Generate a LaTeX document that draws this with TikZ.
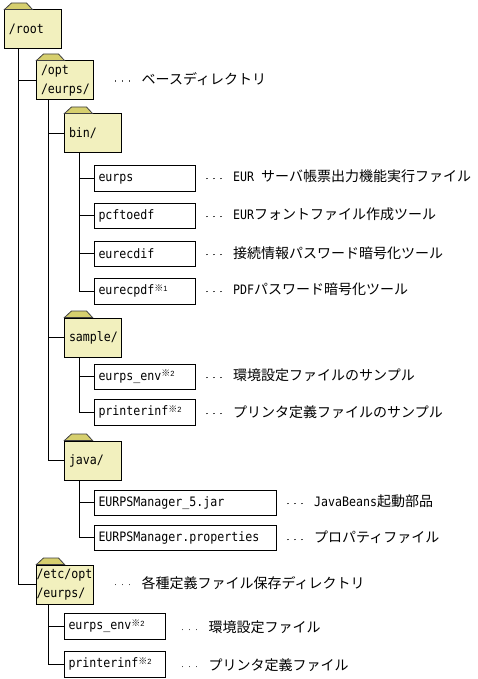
\documentclass[tikz,border=0pt]{standalone}
\usepackage{fontspec}
\setmainfont[FakeStretch=0.894]{DejaVu Sans Mono}
\newfontfamily\jpf{Noto Sans CJK JP}
\newfontfamily\supf{Liberation Sans}
\definecolor{foldfill}{HTML}{F2F0BE}
\definecolor{tabfill}{HTML}{D6CF6E}
\newcommand{\jp}[1]{{\jpf\fontsize{14}{16}\selectfont #1}}
\newcommand{\nts}[1]{\raisebox{3.2pt}{\jpf\fontsize{9}{9}\selectfont ※\supf\fontsize{7.5}{8}\selectfont #1}}
\newcommand{\fldr}[4]{%
  \node[folderbox] (#1) at (#2,#3) {#4};
  \fill[tabfill,draw=black!75,line width=.8pt] ([xshift=1pt]#1.north west) -- ([xshift=8pt,yshift=6.5pt]#1.north west) -- ([xshift=23pt,yshift=6.5pt]#1.north west) -- ([xshift=29pt]#1.north west) -- cycle;
}
\tikzset{
  folderbox/.style={draw=black,fill=foldfill,line width=1pt,anchor=north west,minimum width=57pt,minimum height=39pt,inner sep=0pt,inner xsep=5pt,text width=47pt,align=left,font=\fontsize{13}{19}\selectfont},
  filebox/.style={draw=black,fill=white,line width=1pt,anchor=north west,minimum height=25.5pt,inner sep=0pt,inner xsep=4.5pt,align=left,font=\fontsize{13}{14}\selectfont},
  shortfile/.style={filebox,text width=92pt},
  longfile/.style={filebox,text width=173pt},
  desc/.style={anchor=west,inner sep=0pt,yshift=-0.7pt,font=\fontsize{13}{14}\selectfont},
  conn/.style={line width=1pt,draw=black},
}
\newcommand{\dotrule}{\textcolor{black!70}{\rule[2.6pt]{1.5pt}{1.5pt}}}
\newcommand{\dotsl}{\hbox to 27pt{\dotrule\hspace{5.5pt}\dotrule\hspace{5.5pt}\dotrule\hfill}}
\begin{document}
\begin{tikzpicture}[x=1pt,y=-1pt]
\useasboundingbox (0,0) rectangle (477,679);
\fill[white] (0,0) rectangle (477,679);
% folders
\fldr{root}{3.5}{9.5}{/root}
\fldr{opt}{35.5}{60.5}{/opt\\/eurps/}
\fldr{bin}{63.5}{113.5}{bin/}
\fldr{sample}{63.5}{317.5}{sample/}
\fldr{java}{63.5}{440.5}{java/}
\fldr{etc}{35.5}{564.5}{\hspace*{-4.5pt}/etc/opt\\\hspace*{-4.5pt}/eurps/}
% files
\node[shortfile] (eurps) at (93.5,165.5) {eurps};
\node[shortfile] (pcf) at (93.5,202.5) {pcftoedf};
\node[shortfile] (cdif) at (93.5,240.5) {eurecdif};
\node[shortfile] (cpdf) at (93.5,278) {eurecpdf\nts{1}};
\node[shortfile] (env) at (93.5,363.5) {eurps\_env\nts{2}};
\node[shortfile] (pinf) at (93.5,399) {printerinf\nts{2}};
\node[longfile] (jar) at (93.5,489.5) {EURPSManager\_5.jar};
\node[longfile] (prop) at (93.5,524.5) {EURPSManager.properties};
\node[shortfile] (env2) at (63.5,613) {eurps\_env\nts{2}};
\node[shortfile] (pinf2) at (63.5,651) {printerinf\nts{2}};
% connectors
\draw[conn] ([xshift=15pt]root.south west) |- (opt.west);
\draw[conn] ([xshift=15pt]root.south west) |- (etc.west);
\draw[conn] ([xshift=13pt]opt.south west) |- (bin.west);
\draw[conn] ([xshift=13pt]opt.south west) |- (sample.west);
\draw[conn] ([xshift=13pt]opt.south west) |- (java.west);
\draw[conn] ([xshift=15.5pt]bin.south west) |- (eurps.west);
\draw[conn] ([xshift=15.5pt]bin.south west) |- (pcf.west);
\draw[conn] ([xshift=15.5pt]bin.south west) |- (cdif.west);
\draw[conn] ([xshift=15.5pt]bin.south west) |- (cpdf.west);
\draw[conn] ([xshift=15.5pt]sample.south west) |- (env.west);
\draw[conn] ([xshift=15.5pt]sample.south west) |- (pinf.west);
\draw[conn] ([xshift=15.5pt]java.south west) |- (jar.west);
\draw[conn] ([xshift=15.5pt]java.south west) |- (prop.west);
\draw[conn] ([xshift=13pt]etc.south west) |- (env2.west);
\draw[conn] ([xshift=13pt]etc.south west) |- (pinf2.west);
% descriptions
\node[desc] (d1) at (114.5,78) {\dotsl\jp{ベースディレクトリ}};
\node[desc] (d2) at (206,176) {\dotsl EUR\hspace{7pt}\jp{サーバ帳票出力機能実行ファイル}};
\node[desc] (d3) at (206,214) {\dotsl EUR\jp{フォントファイル作成ツール}};
\node[desc] (d4) at (206,252) {\dotsl\jp{接続情報パスワード暗号化ツール}};
\node[desc] (d5) at (206,289) {\dotsl PDF\jp{パスワード暗号化ツール}};
\node[desc] (d6) at (206,375) {\dotsl\jp{環境設定ファイルのサンプル}};
\node[desc] (d7) at (206,411) {\dotsl\jp{プリンタ定義ファイルのサンプル}};
\node[desc] (d8) at (287,501) {\dotsl JavaBeans\jp{起動部品}};
\node[desc] (d9) at (287,537) {\dotsl\jp{プロパティファイル}};
\node[desc] (d10) at (114.5,582) {\dotsl\jp{各種定義ファイル保存ディレクトリ}};
\node[desc] (d11) at (181.5,627) {\dotsl\jp{環境設定ファイル}};
\node[desc] (d12) at (181.5,664) {\dotsl\jp{プリンタ定義ファイル}};
\end{tikzpicture}
\end{document}
